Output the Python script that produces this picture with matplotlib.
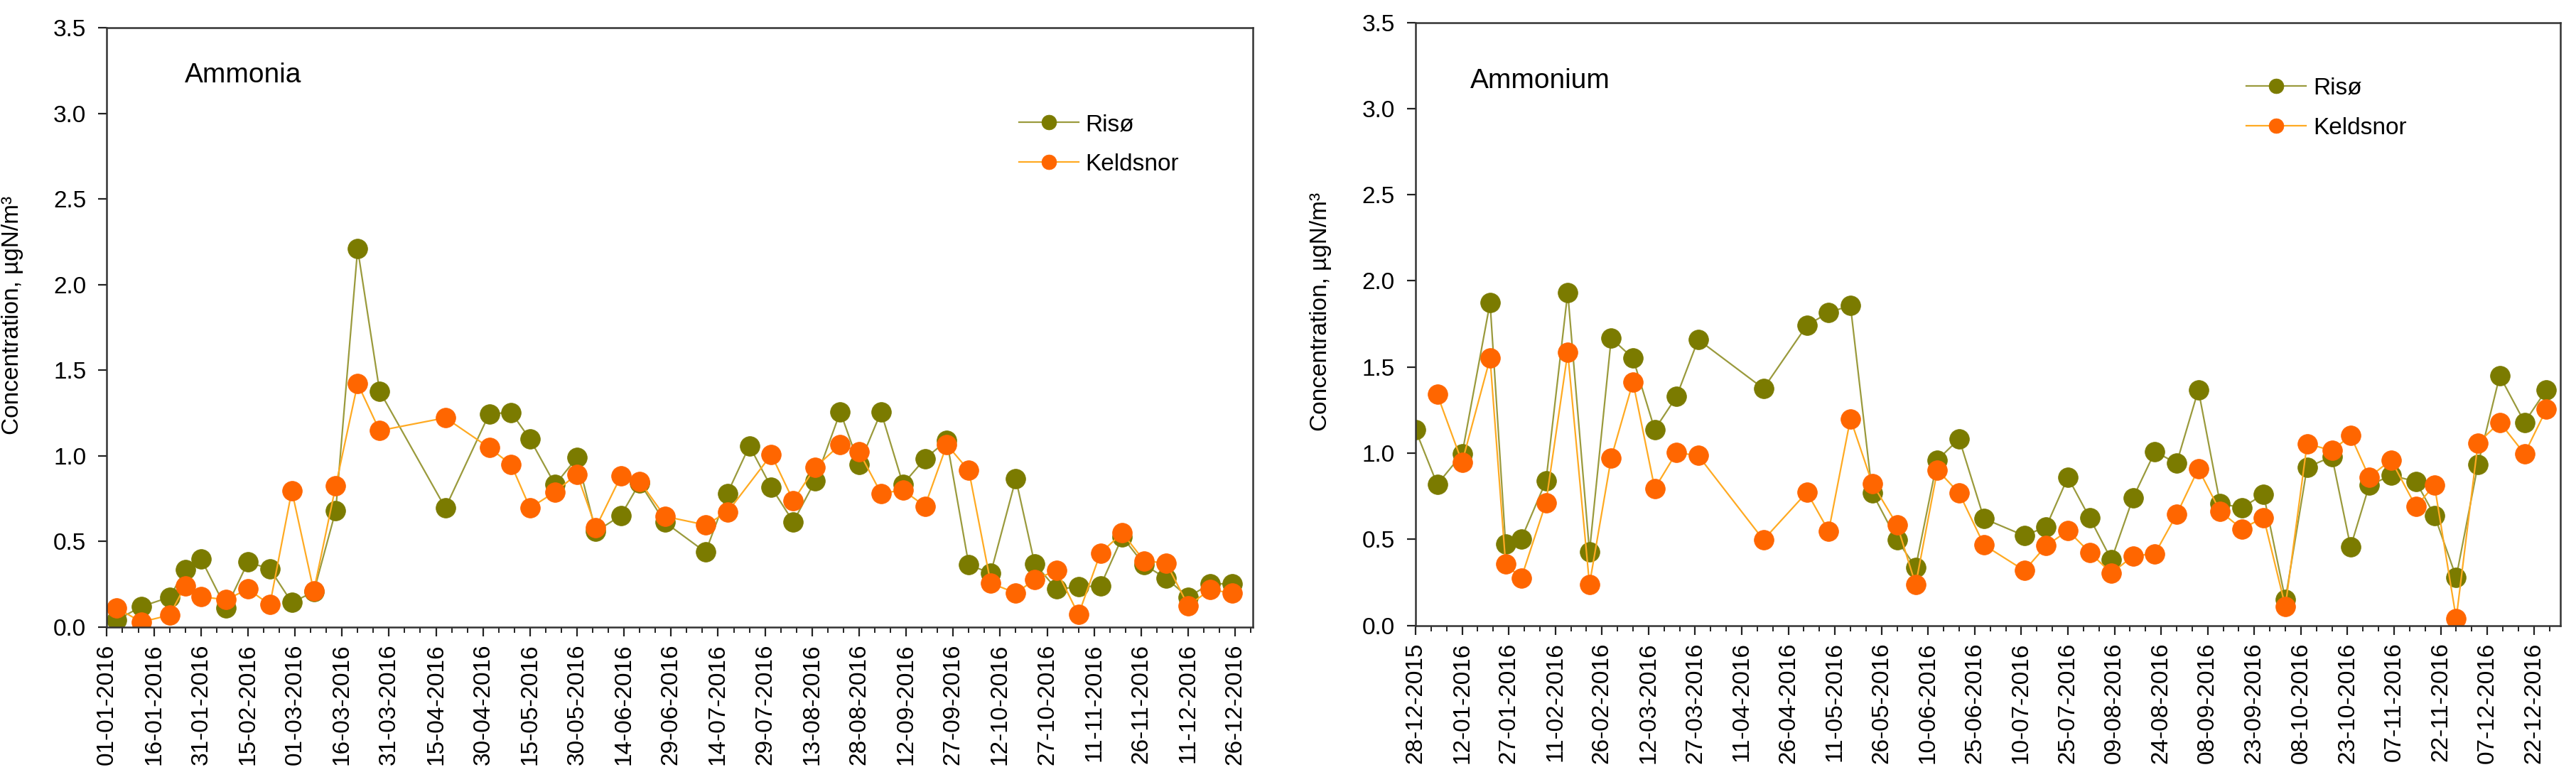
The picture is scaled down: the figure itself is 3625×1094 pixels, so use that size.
import matplotlib.pyplot as plt
import matplotlib.dates as mdates
from matplotlib.ticker import MultipleLocator, FormatStrFormatter
import pandas as pd

plt.rcParams['font.family'] = ['Liberation Sans', 'DejaVu Sans']

# ---- Ammonia (left panel) ----
nh3_riso_dates = ['2016-01-04', '2016-01-12', '2016-01-21', '2016-01-26', '2016-01-31',
                  '2016-02-08', '2016-02-15', '2016-02-22', '2016-02-29', '2016-03-07',
                  '2016-03-14', '2016-03-21', '2016-03-28', '2016-04-18', '2016-05-02',
                  '2016-05-09', '2016-05-15', '2016-05-23', '2016-05-30', '2016-06-05',
                  '2016-06-13', '2016-06-19', '2016-06-27', '2016-07-10', '2016-07-17',
                  '2016-07-24', '2016-07-31', '2016-08-07', '2016-08-14', '2016-08-22',
                  '2016-08-28', '2016-09-04', '2016-09-11', '2016-09-18', '2016-09-25',
                  '2016-10-02', '2016-10-09', '2016-10-17', '2016-10-23', '2016-10-30',
                  '2016-11-06', '2016-11-13', '2016-11-20', '2016-11-27', '2016-12-04',
                  '2016-12-11', '2016-12-18', '2016-12-25']
nh3_riso = [0.04, 0.12, 0.175, 0.335, 0.40, 0.11, 0.38, 0.34, 0.144, 0.206,
            0.68, 2.21, 1.379, 0.696, 1.246, 1.254, 1.098, 0.832, 0.991, 0.558,
            0.652, 0.843, 0.613, 0.438, 0.782, 1.059, 0.816, 0.615, 0.855, 1.257,
            0.949, 1.257, 0.835, 0.984, 1.09, 0.363, 0.316, 0.866, 0.371, 0.222,
            0.235, 0.241, 0.527, 0.363, 0.285, 0.175, 0.253, 0.253]

nh3_keld_dates = ['2016-01-04', '2016-01-12', '2016-01-21', '2016-01-26', '2016-01-31',
                  '2016-02-08', '2016-02-15', '2016-02-22', '2016-02-29', '2016-03-07',
                  '2016-03-14', '2016-03-21', '2016-03-28', '2016-04-18', '2016-05-02',
                  '2016-05-09', '2016-05-15', '2016-05-23', '2016-05-30', '2016-06-05',
                  '2016-06-13', '2016-06-19', '2016-06-27', '2016-07-10', '2016-07-17',
                  '2016-07-31', '2016-08-07', '2016-08-14', '2016-08-22',
                  '2016-08-28', '2016-09-04', '2016-09-11', '2016-09-18', '2016-09-25',
                  '2016-10-02', '2016-10-09', '2016-10-17', '2016-10-23', '2016-10-30',
                  '2016-11-06', '2016-11-13', '2016-11-20', '2016-11-27', '2016-12-04',
                  '2016-12-11', '2016-12-18', '2016-12-25']
nh3_keld = [0.113, 0.03, 0.07, 0.242, 0.178, 0.16, 0.222, 0.131, 0.797, 0.211,
            0.824, 1.423, 1.148, 1.223, 1.048, 0.949, 0.696, 0.79, 0.894, 0.582,
            0.882, 0.852, 0.647, 0.597, 0.672, 1.007, 0.738, 0.934, 1.066,
            1.024, 0.782, 0.80, 0.707, 1.066, 0.915, 0.257, 0.199, 0.277, 0.332,
            0.073, 0.433, 0.55, 0.386, 0.375, 0.125, 0.219, 0.199]

# ---- Ammonium (right panel) ----
nh4_riso_dates = ['2015-12-28', '2016-01-04', '2016-01-12', '2016-01-21', '2016-01-26',
                  '2016-01-31', '2016-02-08', '2016-02-15', '2016-02-22', '2016-02-29',
                  '2016-03-07', '2016-03-14', '2016-03-21', '2016-03-28', '2016-04-18',
                  '2016-05-02', '2016-05-09', '2016-05-16', '2016-05-23', '2016-05-31',
                  '2016-06-06', '2016-06-13', '2016-06-20', '2016-06-28', '2016-07-11',
                  '2016-07-18', '2016-07-25', '2016-08-01', '2016-08-08', '2016-08-15',
                  '2016-08-22', '2016-08-29', '2016-09-05', '2016-09-12', '2016-09-19',
                  '2016-09-26', '2016-10-03', '2016-10-10', '2016-10-18', '2016-10-24',
                  '2016-10-30', '2016-11-06', '2016-11-14', '2016-11-20', '2016-11-27',
                  '2016-12-04', '2016-12-11', '2016-12-19', '2016-12-26']
nh4_riso = [1.135, 0.819, 0.995, 1.874, 0.471, 0.50, 0.838, 1.933, 0.428, 1.667,
            1.551, 1.137, 1.328, 1.659, 1.375, 1.742, 1.816, 1.857, 0.77, 0.496,
            0.338, 0.961, 1.083, 0.62, 0.521, 0.573, 0.86, 0.625, 0.381, 0.742,
            1.008, 0.942, 1.367, 0.707, 0.684, 0.761, 0.15, 0.918, 0.98, 0.456,
            0.813, 0.871, 0.836, 0.639, 0.28, 0.933, 1.449, 1.179, 1.367]

nh4_keld_dates = nh4_riso_dates[1:]
nh4_keld = [1.341, 0.947, 1.551, 0.358, 0.273, 0.713, 1.584, 0.239, 0.973, 1.413,
            0.795, 1.003, 0.986, 0.497, 0.773, 0.548, 1.2, 0.825, 0.585, 0.237,
            0.902, 0.768, 0.467, 0.319, 0.463, 0.55, 0.425, 0.303, 0.404, 0.416,
            0.644, 0.909, 0.662, 0.561, 0.627, 0.11, 1.055, 1.015, 1.102, 0.86,
            0.961, 0.691, 0.813, 0.04, 1.059, 1.179, 0.996, 1.254]

series_labels = ['Risø', 'Keldsnor']

OLIVE_LINE = '#9a9a3c'
OLIVE_MARK = '#7b7b00'
ORANGE_LINE = '#ffaa22'
ORANGE_MARK = '#ff6600'
FS = 24

fig = plt.figure(figsize=(36.25, 10.94), dpi=100)
ax1 = fig.add_axes([0.0415, 0.1929, 0.4449, 0.771])
ax2 = fig.add_axes([0.5495, 0.195, 0.4444, 0.7762])


def draw_panel(ax, riso_d, riso_v, keld_d, keld_v, start, end, title, title_xy, leg_xy, label_y):
    ax.plot(pd.to_datetime(riso_d), riso_v, color=OLIVE_LINE, lw=1.6, marker='o',
            markersize=20, markerfacecolor=OLIVE_MARK, markeredgecolor=OLIVE_MARK,
            markeredgewidth=0.5, label=series_labels[0])
    ax.plot(pd.to_datetime(keld_d), keld_v, color=ORANGE_LINE, lw=1.6, marker='o',
            markersize=20, markerfacecolor=ORANGE_MARK, markeredgecolor=ORANGE_MARK,
            markeredgewidth=0.5, label=series_labels[1])

    ax.set_ylim(0, 3.5)
    ax.yaxis.set_major_locator(MultipleLocator(0.5))
    ax.yaxis.set_major_formatter(FormatStrFormatter('%.1f'))

    ax.set_xlim(pd.Timestamp(start), pd.Timestamp(end))
    ax.set_xticks(pd.date_range(start, end, freq='15D'))
    ax.set_xticks(pd.date_range(start, end, freq='5D'), minor=True)
    ax.xaxis.set_major_formatter(mdates.DateFormatter('%d-%m-%Y'))

    ax.tick_params(axis='both', which='major', direction='out', length=9, width=1.6,
                   labelsize=FS, color='#222222')
    ax.tick_params(axis='y', pad=12)
    ax.tick_params(axis='x', which='major', pad=8, labelrotation=90)
    ax.tick_params(axis='x', which='minor', direction='out', length=6, width=1.4,
                   color='#222222')
    for sp in ax.spines.values():
        sp.set_linewidth(1.8)
        sp.set_color('#333333')

    ax.set_ylabel('Concentration, µgN/m³', fontsize=FS)
    ax.yaxis.set_label_coords(-0.073, label_y)

    ax.text(title_xy[0], title_xy[1], title, transform=ax.transAxes,
            fontsize=28, ha='left', va='center')

    ax.legend(loc='upper left', bbox_to_anchor=leg_xy, frameon=False, fontsize=FS,
              handlelength=2.5, handletextpad=0.3, labelspacing=0.75,
              markerscale=0.75, borderpad=0, borderaxespad=0)


draw_panel(ax1, nh3_riso_dates, nh3_riso, nh3_keld_dates, nh3_keld,
           '2016-01-01', '2016-12-31 16:00', 'Ammonia', (0.068, 0.921), (0.796, 0.857), 0.52)
draw_panel(ax2, nh4_riso_dates, nh4_riso, nh4_keld_dates, nh4_keld,
           '2015-12-28', '2016-12-30 12:00', 'Ammonium', (0.0475, 0.903), (0.726, 0.909), 0.52)

fig.savefig('out.png', dpi=100, facecolor='white')
